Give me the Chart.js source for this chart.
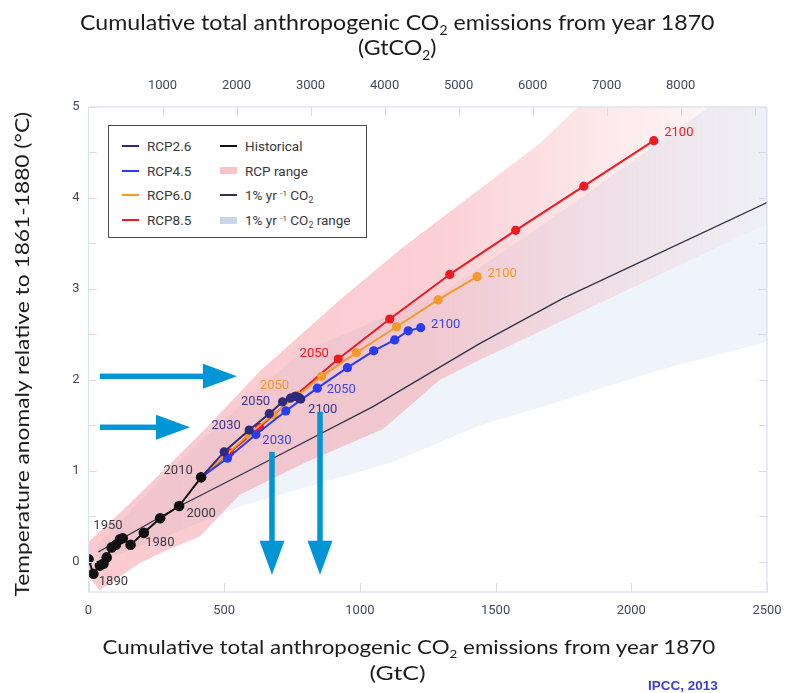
<!DOCTYPE html>
<html><head><meta charset="utf-8">
<script src="https://cdn.jsdelivr.net/npm/chart.js@4.4.1/dist/chart.umd.min.js"></script>
<style>
html,body{margin:0;padding:0;background:#fff;}
#wrap{position:relative;width:785px;height:693px;overflow:hidden;background:#fff;}
#c{position:absolute;left:0;top:0;}
.ttl{position:absolute;text-align:center;white-space:nowrap;color:#1c1c1c;font-family:Lato,"Open Sans",sans-serif;line-height:1;}
.ttl span{display:inline-block;transform-origin:50% 50%;}
.ttl sub{font-size:0.6em;vertical-align:-0.35em;line-height:0;}
#legend{position:absolute;left:108px;top:125px;width:257px;height:111px;border:1.5px solid #4d4d4d;background:#fff;font-family:Roboto,sans-serif;font-size:13.5px;color:#3a3a3a;}
.li{position:absolute;white-space:nowrap;line-height:16px;}
.li sub{font-size:0.65em;vertical-align:-0.35em;line-height:0;}
.li sup{font-size:0.6em;vertical-align:0.55em;line-height:0;}
.sw{position:absolute;}
#ipcc{position:absolute;left:648px;top:678px;font-family:"Liberation Sans",Arial,sans-serif;font-weight:bold;font-size:13.5px;color:#3b3fcf;white-space:nowrap;}
</style></head><body>
<div id="wrap">
<canvas id="c" width="785" height="693"></canvas>
<div class="ttl" id="top1" style="left:-2.5px;width:800px;top:11px;font-size:22px;"><span data-w="635">Cumulative total anthropogenic CO<sub>2</sub> emissions from year 1870</span></div>
<div class="ttl" id="top2" style="left:-2.5px;width:800px;top:36px;font-size:22px;"><span>(GtCO<sub>2</sub>)</span></div>
<div class="ttl" id="bot1" style="left:8.5px;width:800px;top:636px;font-size:20px;"><span data-w="613">Cumulative total anthropogenic CO<sub>2</sub> emissions from year 1870</span></div>
<div class="ttl" id="bot2" style="left:-2.5px;width:800px;top:662px;font-size:20px;"><span data-w="56">(GtC)</span></div>
<div class="ttl" id="ytitle" style="left:-279px;width:600px;top:344px;font-size:20px;transform:rotate(-90deg);transform-origin:50% 50%;"><span data-w="485">Temperature anomaly relative to 1861-1880 (°C)</span></div>
<div id="legend"></div>
<div id="ipcc">IPCC, 2013</div>
</div>
<script>
// ---------- DATA ----------
// Cumulative emissions (GtC) and temperature anomaly (°C)
const historicalYears = [1880,1890,1900,1910,1920,1930,1940,1950,1960,1970,1980,1990,2000,2010];
const historicalX = [0,18,42,55,67,85,101,116,126,155,204,264,334,415];
const historicalY = [0.03,-0.13,-0.04,-0.02,0.05,0.16,0.19,0.25,0.26,0.19,0.32,0.48,0.615,0.93];

const rcpYears = [2010,2020,2030,2040,2050,2060,2070,2080,2090,2100];
const rcp26X = [415,500,592,666,715,744,763,772,778,782];
const rcp26Y = [0.93,1.21,1.45,1.63,1.76,1.80,1.82,1.81,1.80,1.79];
const rcp45X = [415,512,617,727,843,954,1051,1128,1178,1224];
const rcp45Y = [0.93,1.14,1.40,1.66,1.91,2.135,2.32,2.44,2.54,2.575];
const rcp60X = [415,505,590,680,770,859,987,1135,1288,1432];
const rcp60Y = [0.93,1.17,1.40,1.62,1.83,2.04,2.30,2.585,2.88,3.135];
const rcp85X = [415,520,630,760,920,1110,1331,1574,1825,2083];
const rcp85Y = [0.93,1.20,1.48,1.82,2.23,2.67,3.16,3.645,4.13,4.63];

const onePctX = [36,333,700,1050,1441,1750,2500];
const onePctY = [0.11,0.61,1.17,1.71,2.40,2.90,3.95];

const rcpRangeUpperX = [0,127,274,436,632,926,1147,1663,2500];
const rcpRangeUpperY = [0.22,0.57,1.0,1.48,2.1,2.88,3.43,4.6,7.0];
const rcpRangeLowerX = [0,40,190,288,410,557,803,1085,1294,1441,2063,2500];
const rcpRangeLowerY = [-0.15,-0.31,-0.01,0.13,0.28,0.74,1.10,1.46,2.0,2.22,3.10,3.72];

const onePctRangeUpperX = [36,400,780,1300,1663,2500];
const onePctRangeUpperY = [0.2,1.3,2.3,2.95,3.68,5.45];
const onePctRangeLowerX = [36,300,557,1122,1441,1687,2104,2500];
const onePctRangeLowerY = [0.0,0.3,0.61,1.10,1.50,1.72,2.11,2.42];

// labelled years per series
const historicalLabelYears = [1890,1950,1980,2000,2010];
const rcp26LabelYears = [2030,2050,2100];
const rcp45LabelYears = [2030,2050,2100];
const rcp60LabelYears = [2050,2100];
const rcp85LabelYears = [2050,2100];

// annotation arrows (GtC, °C)
const arrowStartX = [42,42,676,853];
const arrowStartY = [2.04,1.48,1.21,1.65];
const arrowEndX = [547,374,676,853];
const arrowEndY = [2.04,1.48,-0.14,-0.14];

// axes
const xTicks = [0,500,1000,1500,2000,2500];
const yTicks = [0,0.5,1,1.5,2,2.5,3,3.5,4,4.5,5];
const topTicks = [1000,2000,3000,4000,5000,6000,7000,8000,9000];
const topTickLabels = ['1000','2000','3000','4000','5000','6000','7000','8000',''];
const CO2_PER_C = 44/12;

// legend
const legendNames = ['RCP2.6','RCP4.5','RCP6.0','RCP8.5','Historical','RCP range','1% yr <sup>-1</sup> CO<sub>2</sub>','1% yr <sup>-1</sup> CO<sub>2</sub> range'];

// ---------- STYLE ----------
const C = {
  hist:'#111111', rcp26:'#2d2a80', rcp45:'#2a3cf0', rcp60:'#f49a2b', rcp85:'#ee1a23',
  onePct:'#2f3347', pink:'244,140,150', blue:'rgba(205,218,238,0.32)', arrow:'#0096d6',
  lbl:{hist:'#3a3a46', rcp26:'#3a3588', rcp45:'#3c46e4', rcp60:'#f39a2e', rcp85:'#ee1c25'}
};
const labelOffsets = {
  hist:{1890:[20,8],1950:[-12,-13],1980:[16,10],2000:[22,8],2010:[-23,-7]},
  rcp26:{2030:[-23,-4],2050:[-27,0],2100:[22,11]},
  rcp45:{2030:[21,6],2050:[24,2],2100:[25,-3]},
  rcp60:{2050:[-23,-10],2100:[25,-3]},
  rcp85:{2050:[-24,-5],2100:[25,-8]}
};

const xy = (xs, ys) => xs.map((x,i)=>({x:x, y:ys[i]}));

function pinkGradient(ctx){
  const ch = ctx.chart; const a = ch.chartArea;
  if(!a) return 'rgba('+C.pink+',0.4)';
  const g = ch.ctx.createLinearGradient(a.left,0,a.right,0);
  g.addColorStop(0,'rgba('+C.pink+',0.46)');
  g.addColorStop(0.5,'rgba('+C.pink+',0.42)');
  g.addColorStop(0.75,'rgba('+C.pink+',0.2)');
  g.addColorStop(1,'rgba('+C.pink+',0.03)');
  return g;
}

function lineDs(label, xs, ys, color, key, order, radius){
  return {label:label, key:key, data:xy(xs,ys), borderColor:color, backgroundColor:color,
    pointBackgroundColor:color, pointBorderColor:color, borderWidth:2, pointRadius:radius,
    pointBorderWidth:0, fill:false, order:order, tension:0};
}

const datasets = [
  lineDs('Historical', historicalX, historicalY, C.hist, 'hist', 0, 5.3),
  lineDs('RCP2.6', rcp26X, rcp26Y, C.rcp26, 'rcp26', 1, 4.6),
  lineDs('RCP4.5', rcp45X, rcp45Y, C.rcp45, 'rcp45', 2, 4.6),
  lineDs('RCP6.0', rcp60X, rcp60Y, C.rcp60, 'rcp60', 3, 4.6),
  lineDs('RCP8.5', rcp85X, rcp85Y, C.rcp85, 'rcp85', 4, 4.6),
  {label:'1% yr-1 CO2', data:xy(onePctX,onePctY), borderColor:C.onePct, borderWidth:1.3, pointRadius:0, fill:false, order:5, tension:0},
  {label:'RCP range upper', data:xy(rcpRangeUpperX,rcpRangeUpperY), borderWidth:0, borderColor:'rgba(0,0,0,0)', pointRadius:0, fill:'+1', backgroundColor:pinkGradient, order:10, tension:0},
  {label:'RCP range lower', data:xy(rcpRangeLowerX,rcpRangeLowerY), borderWidth:0, borderColor:'rgba(0,0,0,0)', pointRadius:0, fill:false, order:10, tension:0},
  {label:'1% range upper', data:xy(onePctRangeUpperX,onePctRangeUpperY), borderWidth:0, borderColor:'rgba(0,0,0,0)', pointRadius:0, fill:'+1', backgroundColor:C.blue, order:20, tension:0},
  {label:'1% range lower', data:xy(onePctRangeLowerX,onePctRangeLowerY), borderWidth:0, borderColor:'rgba(0,0,0,0)', pointRadius:0, fill:false, order:20, tension:0}
];

const labelYearsByKey = {hist:historicalLabelYears, rcp26:rcp26LabelYears, rcp45:rcp45LabelYears, rcp60:rcp60LabelYears, rcp85:rcp85LabelYears};
const yearsByKey = {hist:historicalYears, rcp26:rcpYears, rcp45:rcpYears, rcp60:rcpYears, rcp85:rcpYears};

const decorPlugin = {
  id:'decor',
  afterDatasetsDraw(chart){
    const ctx = chart.ctx, a = chart.chartArea;
    const xs = chart.scales.x, ys = chart.scales.y, x2 = chart.scales.x2;
    ctx.save();
    // inner tick marks
    ctx.strokeStyle = '#d6dde8'; ctx.lineWidth = 1;
    ctx.beginPath();
    yTicks.forEach(v=>{ const p = Math.round(ys.getPixelForValue(v))+0.5;
      ctx.moveTo(a.left,p); ctx.lineTo(a.left+8,p); ctx.moveTo(a.right,p); ctx.lineTo(a.right-8,p); });
    xTicks.forEach(v=>{ const p = Math.round(xs.getPixelForValue(v))+0.5;
      ctx.moveTo(p,a.bottom); ctx.lineTo(p,a.bottom-9); });
    topTicks.forEach(v=>{ const p = Math.round(x2.getPixelForValue(v))+0.5;
      ctx.moveTo(p,a.top); ctx.lineTo(p,a.top+9); });
    ctx.stroke();
    // frame
    ctx.strokeStyle = '#dbe2ec'; ctx.lineWidth = 1.2;
    ctx.strokeRect(a.left, a.top, a.right-a.left, a.bottom-a.top);
    // point labels
    ctx.font = '13px Roboto, sans-serif'; ctx.textAlign = 'center'; ctx.textBaseline = 'middle';
    chart.data.datasets.forEach((ds,di)=>{
      if(!ds.key) return;
      const meta = chart.getDatasetMeta(di);
      labelYearsByKey[ds.key].forEach(yr=>{
        const idx = yearsByKey[ds.key].indexOf(yr);
        const el = meta.data[idx]; const off = labelOffsets[ds.key][yr];
        ctx.fillStyle = C.lbl[ds.key];
        ctx.fillText(String(yr), el.x+off[0], el.y+off[1]);
      });
    });
    // arrows
    ctx.fillStyle = C.arrow; ctx.strokeStyle = C.arrow;
    arrowStartX.forEach((sx,i)=>{
      const x0 = xs.getPixelForValue(sx), y0 = ys.getPixelForValue(arrowStartY[i]);
      const x1 = xs.getPixelForValue(arrowEndX[i]), y1 = ys.getPixelForValue(arrowEndY[i]);
      const ang = Math.atan2(y1-y0, x1-x0), L = Math.hypot(x1-x0,y1-y0);
      const head = 34, hw = 12.5, sw = 5.5;
      ctx.save(); ctx.translate(x0,y0); ctx.rotate(ang);
      ctx.fillRect(0,-sw/2,L-head+1,sw);
      ctx.beginPath(); ctx.moveTo(L-head,-hw); ctx.lineTo(L,0); ctx.lineTo(L-head,hw); ctx.closePath(); ctx.fill();
      ctx.restore();
    });
    ctx.restore();
  }
};

const tickFont = {family:'Roboto, sans-serif', size:13};
const tickColor = '#434b5a';

new Chart(document.getElementById('c'), {
  type:'line',
  data:{datasets:datasets},
  options:{
    responsive:false, animation:false, devicePixelRatio:1,
    layout:{padding:{left:0,right:18,top:67,bottom:71}},
    plugins:{legend:{display:false}, tooltip:{enabled:false}, filler:{propagate:false}},
    elements:{line:{borderJoinStyle:'round'}},
    scales:{
      x:{type:'linear', position:'bottom', min:0, max:2500,
        grid:{display:false, drawTicks:false}, border:{display:false},
        afterBuildTicks:s=>{ s.ticks = xTicks.map(v=>({value:v})); },
        afterFit:s=>{ s.height = 30; s.paddingLeft = 0; s.paddingRight = 0; },
        ticks:{color:tickColor, font:tickFont, padding:11, maxRotation:0, callback:v=>String(v)}},
      x2:{type:'linear', position:'top', min:0, max:2500*CO2_PER_C,
        grid:{display:false, drawTicks:false}, border:{display:false},
        afterBuildTicks:s=>{ s.ticks = topTicks.map(v=>({value:v})); },
        afterFit:s=>{ s.height = 40; s.paddingLeft = 0; s.paddingRight = 0; },
        ticks:{color:tickColor, font:tickFont, padding:13, maxRotation:0, autoSkip:false,
          callback:v=>topTickLabels[topTicks.indexOf(v)]}},
      y:{type:'linear', min:-0.33, max:5,
        grid:{display:false, drawTicks:false}, border:{display:false},
        afterBuildTicks:s=>{ s.ticks = yTicks.map(v=>({value:v})); },
        afterFit:s=>{ s.width = 88.5; s.paddingTop = 0; s.paddingBottom = 0; },
        ticks:{color:tickColor, font:tickFont, padding:9, autoSkip:false,
          callback:v=> Number.isInteger(v) ? String(v) : ''}}
    }
  },
  plugins:[decorPlugin]
});

// legend
(function(){
  const lg = document.getElementById('legend');
  const swatch = [
    {c:C.rcp26,t:'line'},{c:C.rcp45,t:'line'},{c:C.rcp60,t:'line'},{c:C.rcp85,t:'line'},
    {c:C.hist,t:'line'},{c:'rgba(249,196,201,1)',t:'box'},{c:C.onePct,t:'line'},{c:'#c9d6e8',t:'box'}
  ];
  legendNames.forEach((name,i)=>{
    const col = Math.floor(i/4), row = i%4;
    const cy = 20 + row*24.7;
    const sx = col===0 ? 13 : 111;
    const tx = col===0 ? 38 : 136;
    const s = document.createElement('div'); s.className='sw';
    if(swatch[i].t==='line'){ s.style.cssText='left:'+sx+'px;top:'+(cy-1)+'px;width:17px;height:2px;background:'+swatch[i].c; }
    else { s.style.cssText='left:'+sx+'px;top:'+(cy-3.5)+'px;width:17px;height:7px;background:'+swatch[i].c; }
    lg.appendChild(s);
    const t = document.createElement('div'); t.className='li';
    t.style.left = tx+'px'; t.style.top = (cy-8)+'px';
    t.innerHTML = name; lg.appendChild(t);
  });
})();

// fit title widths
document.querySelectorAll('.ttl span[data-w]').forEach(sp=>{
  const target = parseFloat(sp.dataset.w);
  const actual = sp.offsetWidth;
  sp.style.transform = 'scaleX('+(target/actual)+')';
});
(function(){
  const a = document.querySelector('#top1 span'); const b = document.querySelector('#top2 span');
  const s = 635 / a.offsetWidth; b.style.transform = 'scaleX('+s+')';
})();
</script>
</body></html>
